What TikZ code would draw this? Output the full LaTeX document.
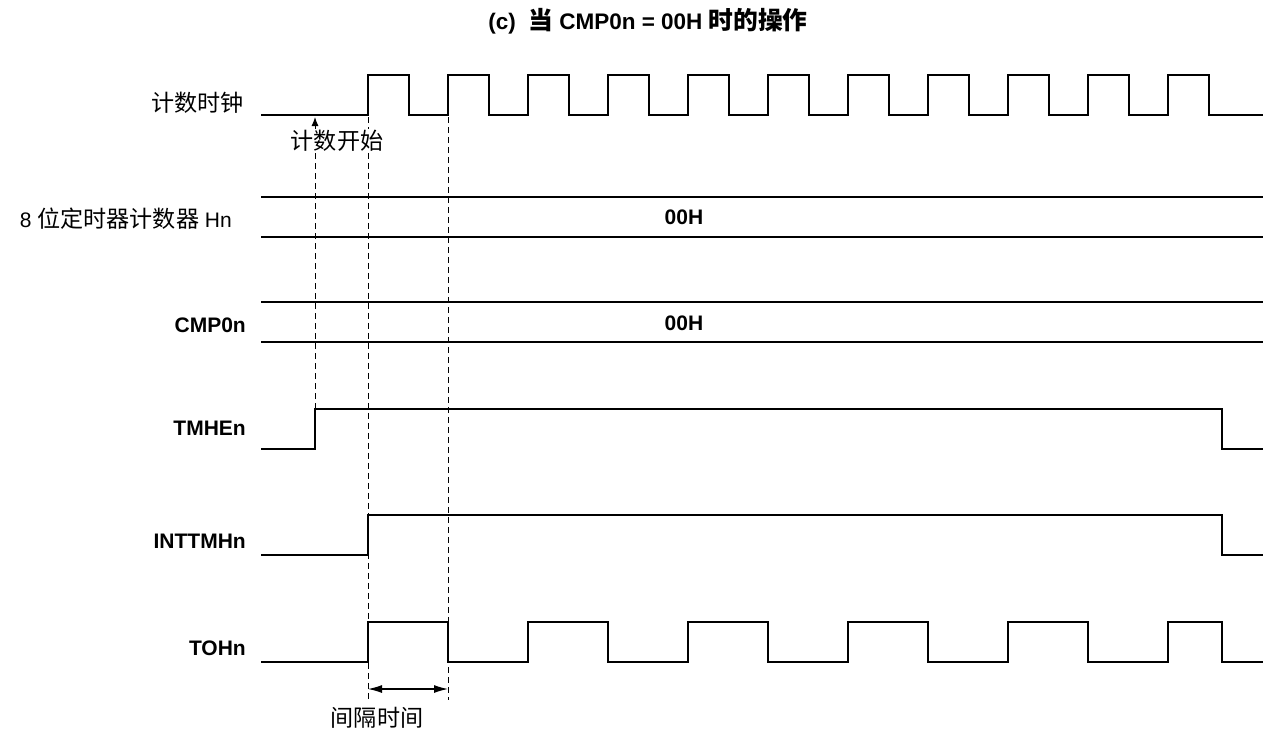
\documentclass[tikz,border=0pt]{standalone}
\usepackage{fontspec}
\setmainfont{Liberation Sans}
\newfontfamily\cjk{Noto Sans CJK SC}[Scale=1.1]
\usepackage{tikz}
\usetikzlibrary{arrows.meta,positioning}

\begin{document}
\begin{tikzpicture}[x=1pt, y=-1pt, >=Latex,
  sig/.style={line width=2.2pt, line join=miter},
  guide/.style={line width=1pt, dash pattern=on 6pt off 4pt},
  lab/.style={anchor=east, inner sep=0pt, font=\fontsize{21}{24}\selectfont\bfseries},
  cjklab/.style={inner sep=1pt, fill=white, font=\fontsize{21}{24}\selectfont\cjk},
  val/.style={inner sep=0pt, font=\fontsize{21}{24}\selectfont\bfseries}]
\useasboundingbox (0,0) rectangle (1268,734);

% title
\node[font=\fontsize{22.5}{26}\selectfont\bfseries] (title) at (648,21) {(c)\ \ {\cjk 当} CMP0n = 00H {\cjk 时的操作}};

% signal names
\node[cjklab, anchor=east] (clkname) at (245,103) {计数时钟};
\node[lab, font=\fontsize{21}{24}\selectfont] (cntname) at (232,219) {8 {\cjk 位定时器计数器} Hn};
\node[lab] (cmpname) at (246,325) {CMP0n};
\node[lab] (enname) at (246,428) {TMHEn};
\node[lab] (intname) at (246,541) {INTTMHn};
\node[lab] (toname) at (246,648) {TOHn};

% waveforms
\draw[sig] (261,115) \foreach \t in {368,448,...,1168} { -- (\t,115) -- (\t,75) -- (\t+41,75) -- (\t+41,115) } -- (1263,115);
\draw[sig] (261,197) -- (1263,197);
\draw[sig] (261,237) -- (1263,237);
\node[val] (cntval) at (684,217) {00H};
\draw[sig] (261,302) -- (1263,302);
\draw[sig] (261,342) -- (1263,342);
\node[val] (cmpval) at (684,323) {00H};
\draw[sig] (261,449) -- (315,449) -- (315,409) -- (1222,409) -- (1222,449) -- (1263,449);
\draw[sig] (261,555) -- (368,555) -- (368,515) -- (1222,515) -- (1222,555) -- (1263,555);
\draw[sig] (261,662) \foreach \t in {368,528,...,1008} { -- (\t,662) -- (\t,622) -- (\t+80,622) -- (\t+80,662) } -- (1168,662) -- (1168,622) -- (1222,622) -- (1222,662) -- (1263,662);

% count start
\coordinate (enrise) at (315,409);
\coordinate (clkstart) at (315,117);
\node[cjklab] (startlab) at (337,141) {计数开始};
\draw[guide] (enrise) -- (enrise |- startlab.south);
\draw[line width=1pt, -{Latex[length=9pt,width=7pt]}] (enrise |- startlab.north) -- (clkstart);

% interval
\coordinate (clkA) at (368,117);
\coordinate (clkB) at (448,117);
\coordinate (endA) at (368,700);
\coordinate (endB) at (448,700);
\draw[guide] (clkA) -- (startlab.north -| clkA);
\draw[guide] (startlab.south -| clkA) -- (endA);
\draw[guide] (clkB) -- (endB);
\coordinate (ivA) at (368,689);
\coordinate (ivB) at (448,689);
\draw[line width=1.2pt, {Latex[length=14pt,width=8pt]}-{Latex[length=14pt,width=8pt]}] (ivA) -- (ivB);
\node[cjklab] (ivlab) at (377,718) {间隔时间};
\end{tikzpicture}
\end{document}
